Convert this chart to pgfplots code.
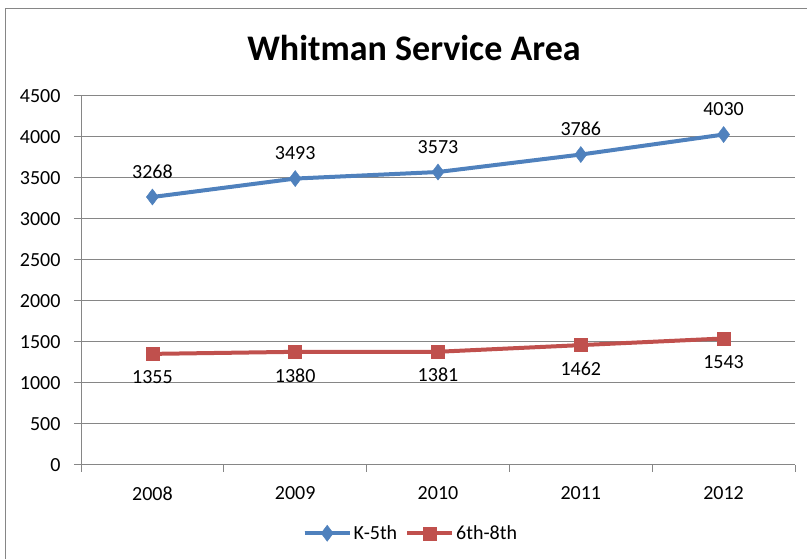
\documentclass[border=0pt]{standalone}
\usepackage{fontspec}
\setmainfont{Carlito}
\usepackage{pgfplots}
\pgfplotsset{compat=1.18}
\definecolor{kblue}{HTML}{4F81BD}
\definecolor{kred}{HTML}{C0504D}
\definecolor{gridgray}{HTML}{868686}
\begin{document}
\begin{tikzpicture}[x=1pt,y=1pt]
\useasboundingbox (0,0) rectangle (807,559);
\draw[gridgray,line width=1pt] (5,0) -- (5,550) -- (807,550);
\node[font=\fontsize{36}{40}\selectfont\bfseries] at (414,511) {Whitman Service Area};
\begin{axis}[
  at={(81pt,94pt)}, anchor=south west,
  width=714pt, height=369pt, scale only axis,
  xmin=-0.5, xmax=4.5, ymin=0, ymax=4500,
  axis x line*=bottom, axis y line*=left,
  axis line style={draw=gridgray, line width=1pt, -},
  xtick={0,1,2,3,4}, xticklabels={2008,2009,2010,2011,2012},
  xtick style={draw=none},
  extra x ticks={-0.5,0.5,1.5,2.5,3.5,4.5},
  extra x tick labels={},
  extra x tick style={xmajorgrids=false, ymajorgrids=false, major tick length=7pt, xtick style={draw=gridgray, line width=1pt}},
  ytick={0,500,...,4500},
  major tick length=7pt,
  xmajorgrids=false, ymajorgrids=true, grid style={draw=gridgray, line width=1pt},
  tick align=outside,
  ytick style={draw=gridgray, line width=1pt},
  yticklabel style={xshift=-10pt},
  xticklabel style={yshift=-11pt},
  ticklabel style={font=\fontsize{20}{23}\selectfont},
  /pgf/number format/assume math mode=true,
  /pgf/number format/1000 sep={},
  nodes near coords,
  every node near coord/.append style={font=\fontsize{20}{23}\selectfont, text=black},
  legend style={at={(0.462,-0.185)}, anchor=center, draw=none, font=\fontsize{20}{23}\selectfont, legend columns=2, /tikz/every even column/.append style={column sep=6pt}},
  legend image code/.code={\draw[#1] (0pt,0pt) -- (45pt,0pt); \draw[#1, mark repeat=2, mark phase=2] plot coordinates {(0pt,0pt) (22.5pt,0pt) (45pt,0pt)};},
  clip=false,
]
\addplot[kblue, line width=4pt, mark=diamond*, mark size=8pt, mark options={line width=0.5pt, fill=kblue},
  every node near coord/.append style={anchor=south, yshift=15pt}]
  coordinates {(0,3268) (1,3493) (2,3573) (3,3786) (4,4030)};
\addlegendentry{K-5th}
\addplot[kred, line width=4pt, mark=square*, mark size=6.5pt, mark options={line width=0.5pt, fill=kred},
  every node near coord/.append style={anchor=north, yshift=-13pt}]
  coordinates {(0,1355) (1,1380) (2,1381) (3,1462) (4,1543)};
\addlegendentry{6th-8th}
\end{axis}
\end{tikzpicture}
\end{document}
